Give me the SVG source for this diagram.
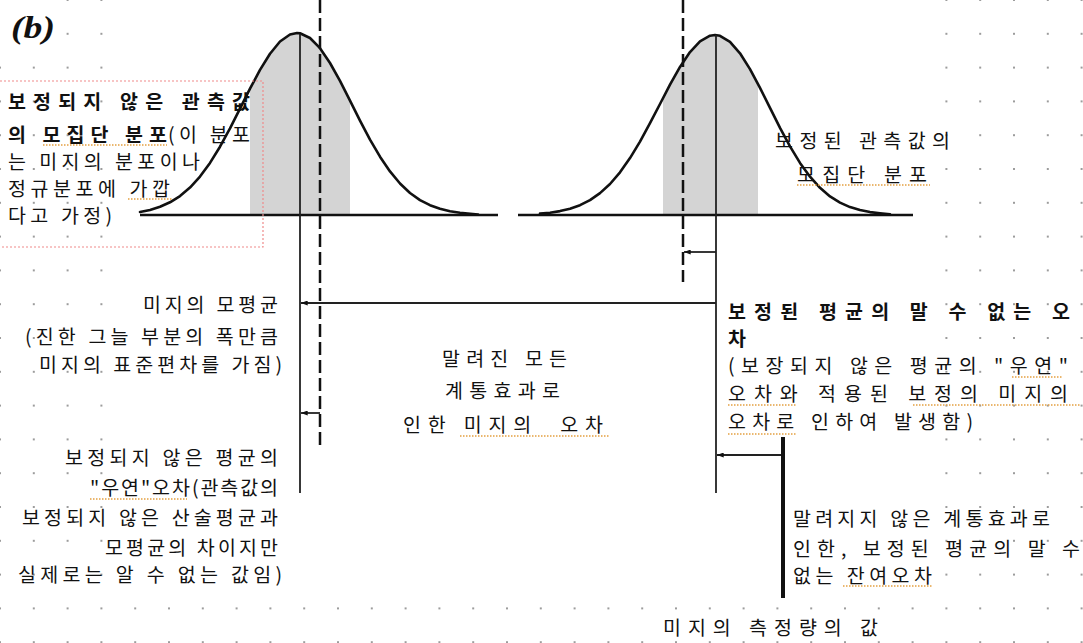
<svg xmlns="http://www.w3.org/2000/svg" width="1083" height="643" viewBox="0 0 1083 643">
<style>
.t{font-family:"Noto Sans CJK KR","Noto Sans CJK SC",sans-serif;font-size:19.5px;fill:#111;}
.b{font-weight:bold;}
.curve{fill:none;stroke:#111;stroke-width:2.6;stroke-linejoin:round;stroke-linecap:round;}
.base{stroke:#111;stroke-width:2.5;}
.shade{fill:#d4d4d4;}
.dash{stroke:#111;stroke-width:2.5;stroke-dasharray:13 5;fill:none;}
.sol{stroke:#222;stroke-width:1.8;fill:none;}
.thick{stroke:#111;stroke-width:4;fill:none;}
.sp{stroke:#e3a040;stroke-width:1.3;stroke-dasharray:1.5 1.5;fill:none;}
</style>
<defs>
<pattern id="grid" x="-16.9" y="-16.9" width="33.8" height="33.8" patternUnits="userSpaceOnUse">
<circle cx="16.9" cy="16.9" r="1" fill="#7a7a7a"/>
</pattern>
<marker id="ah" viewBox="0 0 8 6" refX="8" refY="3" markerWidth="7" markerHeight="5" markerUnits="userSpaceOnUse" orient="auto-start-reverse">
<path d="M0,0 L8,3 L0,6 z" fill="#111"/>
</marker>
</defs>
<rect width="1083" height="643" fill="#fff"/>
<rect width="1083" height="643" fill="url(#grid)"/>
<rect x="118" y="0" width="812" height="592" fill="#fff"/>
<rect x="0" y="0" width="52" height="48" fill="#fff"/>

<g id="left-distribution">
<polygon class="shade" points="250,215 250,88.7 260,69.9 270,53.7 280,41.5 290,34.5 297,33 300,33.3 310,38 320,48.2 330,63 340,80.9 350,100.6 350,215"/>
<polyline class="curve" points="140,211.9 150,209.9 160,206.8 170,202.3 180,196.1 190,187.6 200,176.6 210,162.9 220,146.7 230,128.4 240,108.6 250,88.7 260,69.9 270,53.7 280,41.5 290,34.5 297,33 300,33.3 310,38 320,48.2 330,63 340,80.9 350,100.6 360,120.6 370,139.6 380,156.7 390,171.4 400,183.5 410,193 420,200.1 430,205.2 440,208.8 450,211.2 460,212.7 478,214.5"/>
<line class="base" x1="140" y1="215" x2="498" y2="215"/>
</g>

<g id="right-distribution">
<polygon class="shade" points="663,215 663,98 670,84.7 680,66.9 690,52.1 700,41.3 710,35.7 715,35 720,35.8 730,41.8 740,53.3 750,69.1 758,83.9 758,215"/>
<polyline class="curve" points="540,213.6 550,212.7 560,211.1 570,208.7 580,205.2 590,200.1 600,193.1 610,184 620,172.3 630,158.1 640,141.6 650,123.2 660,104 670,84.7 680,66.9 690,52.1 700,41.3 710,35.7 715,35 720,35.8 730,41.8 740,53.3 750,69.1 760,87.8 770,107.8 780,127.8 790,146.4 800,162.9 810,176.7 820,187.8 830,196.4 840,202.6 850,207.1 860,210.1 870,212.1 880,213.3 890,214.4"/>
<line class="base" x1="518" y1="215" x2="913" y2="215"/>
</g>

<g id="connectors">
<line class="sol" x1="300" y1="34" x2="300" y2="493"/>
<line class="dash" x1="320" y1="0" x2="320" y2="447"/>
<line class="dash" x1="683" y1="0" x2="683" y2="282"/>
<line class="sol" x1="716" y1="35" x2="716" y2="493"/>
<line class="sol" x1="301" y1="303" x2="716" y2="303" marker-start="url(#ah)"/>
<line class="sol" x1="301" y1="413" x2="320" y2="413" marker-start="url(#ah)"/>
<line class="sol" x1="684" y1="252" x2="716" y2="252" marker-start="url(#ah)"/>
<line class="sol" x1="717" y1="455" x2="783" y2="455" marker-start="url(#ah)"/>
<line class="thick" x1="783" y1="437" x2="783" y2="598"/>
</g>

<g id="label-b">
<text x="11" y="38" font-family="Liberation Serif, serif" font-style="italic" font-weight="bold" font-size="31" fill="#111" textLength="44" lengthAdjust="spacingAndGlyphs">(b)</text>
</g>

<g id="label-uncorrected-distribution">
<path d="M0,81 H263 V247 H0" fill="none" stroke="#ef8a8a" stroke-width="1.2" stroke-dasharray="2 2"/>
<text class="t b" x="8" y="109" textLength="242" lengthAdjust="spacing">보정되지 않은 관측값</text>
<text class="t b" x="8" y="141.5" textLength="159" lengthAdjust="spacing">의 모집단 분포</text>
<text class="t" x="168" y="141.5" textLength="82" lengthAdjust="spacing">(이 분포</text>
<text class="t" x="8" y="168.5" textLength="192" lengthAdjust="spacing">는 미지의 분포이나</text>
<text class="t" x="8" y="195.5" textLength="162" lengthAdjust="spacing">정규분포에 가깝</text>
<text class="t" x="8" y="222.5" textLength="104" lengthAdjust="spacing">다고 가정)</text>
<path class="sp" d="M43,145 H167 M128,199 H172"/>
</g>

<g id="label-true-mean">
<text class="t" x="143" y="312" textLength="135" lengthAdjust="spacing">미지의 모평균</text>
<text class="t" x="25" y="344" textLength="253" lengthAdjust="spacing">(진한 그늘 부분의 폭만큼</text>
<text class="t" x="39" y="372" textLength="243" lengthAdjust="spacing">미지의 표준편차를 가짐)</text>
</g>

<g id="label-random-error">
<text class="t" x="65" y="465" textLength="213" lengthAdjust="spacing">보정되지 않은 평균의</text>
<text class="t" x="90" y="495" textLength="188" lengthAdjust="spacing">"우연"오차(관측값의</text>
<text class="t" x="22" y="525" textLength="256" lengthAdjust="spacing">보정되지 않은 산술평균과</text>
<text class="t" x="105" y="555" textLength="173" lengthAdjust="spacing">모평균의 차이지만</text>
<text class="t" x="18" y="582" textLength="264" lengthAdjust="spacing">실제로는 알 수 없는 값임)</text>
<path class="sp" d="M90,499 H187"/>
</g>

<g id="label-known-systematic">
<text class="t" x="442" y="366" textLength="125" lengthAdjust="spacing">말려진 모든</text>
<text class="t" x="445" y="398" textLength="115" lengthAdjust="spacing">계통효과로</text>
<text class="t" x="403" y="432" textLength="200" lengthAdjust="spacing" style="white-space:pre">인한 미지의  오차</text>
<path class="sp" d="M460,436 H610"/>
</g>

<g id="label-corrected-distribution">
<text class="t" x="775" y="148" textLength="175" lengthAdjust="spacing">보정된 관측값의</text>
<text class="t" x="797" y="182" textLength="130" lengthAdjust="spacing">모집단 분포</text>
<path class="sp" d="M797,185 H930"/>
</g>

<g id="label-corrected-mean-error">
<text class="t b" x="728" y="319" textLength="342" lengthAdjust="spacing">보정된 평균의 말 수 없는 오</text>
<text class="t b" x="728" y="346">차</text>
<text class="t" x="728" y="373" textLength="340" lengthAdjust="spacing">(보장되지 않은 평균의 "우연"</text>
<text class="t" x="728" y="401" textLength="340" lengthAdjust="spacing">오차와 적용된 보정의 미지의</text>
<text class="t" x="728" y="429" textLength="245" lengthAdjust="spacing">오차로 인하여 발생함)</text>
<path class="sp" d="M1012,377 H1063 M728,405 H797 M913,405 H1080 M728,434 H797"/>
</g>

<g id="label-residual-error">
<text class="t" x="793" y="526" textLength="257" lengthAdjust="spacing">말려지지 않은 계통효과로</text>
<text class="t" x="793" y="556" textLength="287" lengthAdjust="spacing">인한, 보정된 평균의 말 수</text>
<text class="t" x="793" y="583" textLength="139" lengthAdjust="spacing">없는 잔여오차</text>
<path class="sp" d="M843,586 H933"/>
</g>

<g id="label-measurand">
<text class="t" x="663" y="635" textLength="215" lengthAdjust="spacing">미지의 측정량의 값</text>
</g>
</svg>
